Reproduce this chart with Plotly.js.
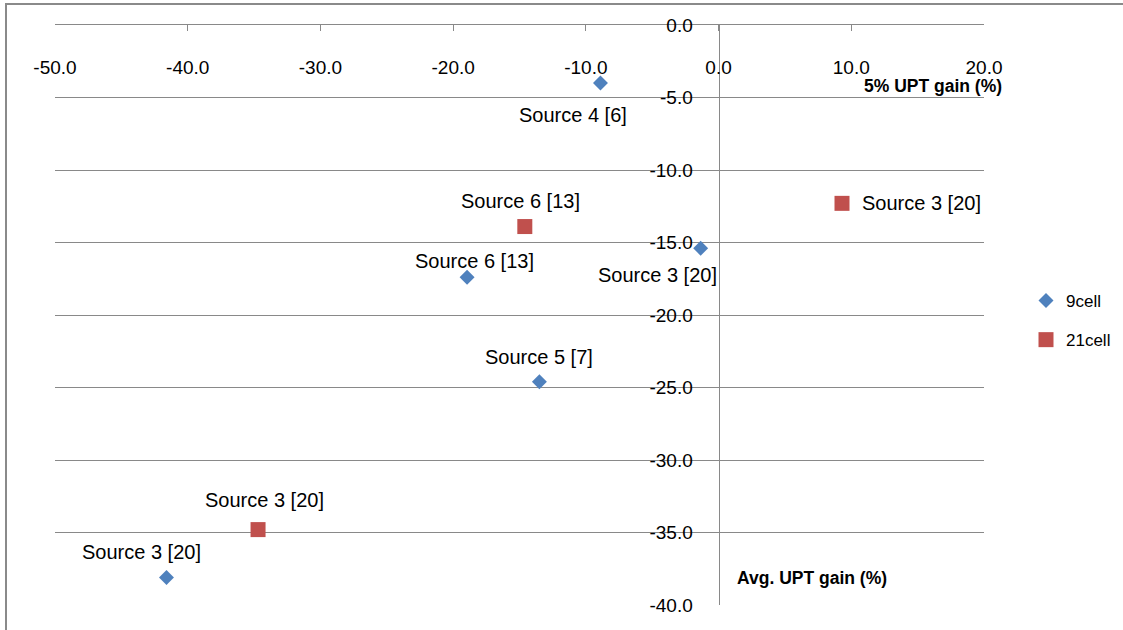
<!DOCTYPE html>
<html>
<head>
<meta charset="utf-8">
<script src="https://cdn.plot.ly/plotly-3.0.1.min.js"></script>
<style>html,body{margin:0;padding:0;background:#fff;}#chart{width:1123px;height:630px;}</style>
</head>
<body>
<div id="chart"></div>
<script>
// ---- data ----
const cell9X = [-8.9, -1.35, -18.95, -13.5, -41.6];
const cell9Y = [-4.0, -15.4, -17.4, -24.6, -38.1];
const cell9Labels = ['Source 4 [6]', 'Source 3 [20]', 'Source 6 [13]', 'Source 5 [7]', 'Source 3 [20]'];
const cell21X = [9.3, -14.6, -34.7];
const cell21Y = [-12.3, -13.9, -34.8];
const cell21Labels = ['Source 3 [20]', 'Source 6 [13]', 'Source 3 [20]'];
const seriesNames = ['9cell', '21cell'];
const xTickVals = [-50, -40, -30, -20, -10, 0, 10, 20];
const xTickLabels = ['-50.0', '-40.0', '-30.0', '-20.0', '-10.0', '0.0', '10.0', '20.0'];
const yTickVals = [-40, -35, -30, -25, -20, -15, -10, -5, 0];
const yTickLabels = ['-40.0', '-35.0', '-30.0', '-25.0', '-20.0', '-15.0', '-10.0', '-5.0', '0.0'];
const xTitle = '5% UPT gain (%)';
const yTitle = 'Avg. UPT gain (%)';

// ---- label offsets (pixels, right / down) ----
const cell9Dx = [-27, -43, 7, 0, -25];
const cell9Dy = [32, 27, -16, -25, -25];
const cell21Dx = [79, -4, 6];
const cell21Dy = [0, -26, -30];

const FONT = 'Liberation Sans, Arial, sans-serif';
const GRID = '#898989';
const L = 55, T = 25, W = 929, H = 580;

const traces = [
  {x: cell9X, y: cell9Y, name: seriesNames[0], type: 'scatter', mode: 'markers',
   marker: {symbol: 'diamond', size: 11.5, color: '#4f81bd'}, legendgroup: 'a'},
  {x: cell21X, y: cell21Y, name: seriesNames[1], type: 'scatter', mode: 'markers',
   marker: {symbol: 'square', size: 15, color: '#c0504d'}, legendgroup: 'b'},
  {x: [], y: [], xaxis: 'x2', showlegend: false, hoverinfo: 'skip'}
];

const annotations = [];
function addLabels(xs, ys, labels, dx, dy) {
  xs.forEach((v, i) => annotations.push({
    x: v, y: ys[i], xref: 'x', yref: 'y', text: labels[i], showarrow: false,
    xanchor: 'center', yanchor: 'middle',
    xshift: dx[i], yshift: -dy[i], font: {family: FONT, size: 20, color: '#000'}
  }));
}
addLabels(cell9X, cell9Y, cell9Labels, cell9Dx, cell9Dy);
addLabels(cell21X, cell21Y, cell21Labels, cell21Dx, cell21Dy);
function addTitle(text, px, py) {
  annotations.push({x: (px - L) / W, y: 1 - (py - T) / H, xref: 'paper', yref: 'paper',
    xanchor: 'center', yanchor: 'middle', text: '<b>' + text + '</b>', showarrow: false,
    font: {family: FONT, size: 17.5, color: '#000'}});
}
addTitle(xTitle, 933, 86);
addTitle(yTitle, 812, 578);

const layout = {
  width: 1123, height: 630, autosize: false,
  margin: {l: L, r: 1123 - L - W, t: T, b: 630 - T - H, autoexpand: false},
  paper_bgcolor: '#fff', plot_bgcolor: '#fff',
  font: {family: FONT, size: 19, color: '#000'},
  xaxis: {range: [-50, 20], tickvals: xTickVals, ticktext: xTickLabels, side: 'top', showline: true, linecolor: GRID, linewidth: 1,
    ticks: 'inside', ticklen: 6, tickcolor: GRID, showgrid: false, zeroline: false, showticklabels: false},
  xaxis2: {range: [-50, 20], tickvals: xTickVals, ticktext: xTickLabels, overlaying: 'x', anchor: 'free', position: 0.95, side: 'bottom',
    showline: false, ticks: '', showgrid: false, zeroline: false,
    tickfont: {family: FONT, size: 19, color: '#000'}},
  yaxis: {range: [-40, 0], tickvals: yTickVals, ticktext: yTickLabels, anchor: 'free', position: 50 / 70, side: 'left',
    showline: true, linecolor: GRID, linewidth: 1, ticks: '', showgrid: true, gridcolor: GRID, gridwidth: 1,
    zeroline: false, ticklabelstandoff: 22, tickfont: {family: FONT, size: 19, color: '#000'}},
  showlegend: true,
  legend: {xref: 'container', yref: 'container', x: 1026 / 1123, xanchor: 'left', y: 1 - 283 / 630, yanchor: 'top',
    font: {family: FONT, size: 17, color: '#000'}, tracegroupgap: 14, bgcolor: 'rgba(0,0,0,0)'},
  shapes: [{type: 'rect', xref: 'paper', yref: 'paper', x0: (6 - L) / W, x1: 1.3, y0: -0.2, y1: 1 + (T - 4) / H,
    line: {color: '#8a8a8a', width: 2}, fillcolor: 'rgba(0,0,0,0)', layer: 'below'}],
  annotations: annotations
};

Plotly.newPlot('chart', traces, layout, {displayModeBar: false, staticPlot: true});
</script>
</body>
</html>
